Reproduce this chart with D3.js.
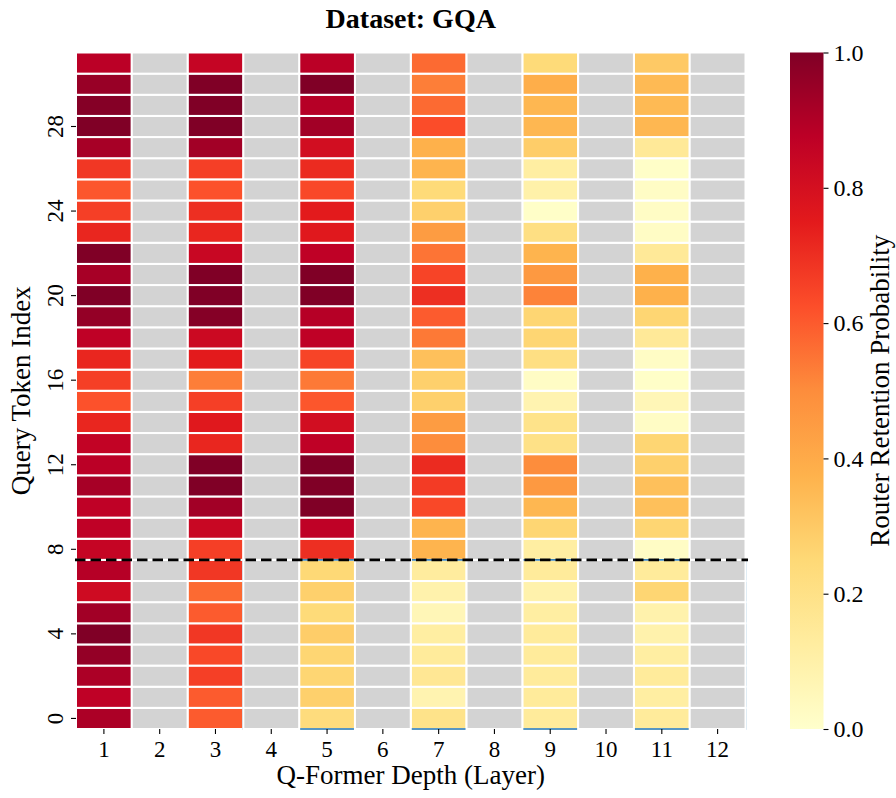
<!DOCTYPE html>
<html>
<head>
<meta charset="utf-8">
<script src="https://cdn.jsdelivr.net/npm/d3@7"></script>
<style>
  body { margin: 0; background: #fff; }
  text { font-family: "Liberation Serif", "Times New Roman", serif; fill: #000; }
</style>
</head>
<body>
<script>
'use strict';

// layers 1..12, rows 0..31 (query tokens); even layers are masked (grey)
var layers = [1, 2, 3, 4, 5, 6, 7, 8, 9, 10, 11, 12];
var tokens = d3.range(32);
var yTicks = [0, 4, 8, 12, 16, 20, 24, 28];
var cbTicks = [0, 0.2, 0.4, 0.6, 0.8, 1.0];

var layer1 = [.91, .87, .91, .96, 1.0, .93, .82, .89, .85, .87, .87, .92, .88, .86, .72, .62,
              .66, .72, .87, .96, 1.0, .92, 1.0, .72, .66, .61, .68, .92, 1.0, .99, .95, .88];
var layer3 = [.60, .60, .66, .64, .68, .60, .57, .68, .66, .84, .93, 1.0, 1.0, .72, .76, .66,
              .53, .75, .83, .99, 1.0, 1.0, .84, .72, .70, .62, .66, .93, 1.0, 1.0, 1.0, .85];
var layer5 = [.23, .28, .26, .26, .29, .24, .28, .25, .70, .87, 1.0, 1.0, 1.0, .87, .81, .61,
              .54, .65, .87, .89, 1.0, 1.0, .87, .76, .75, .64, .71, .81, .93, .89, 1.0, .88];
var layer7 = [.19, .08, .16, .14, .12, .06, .09, .13, .37, .37, .64, .67, .71, .50, .45, .28,
              .28, .33, .54, .60, .70, .65, .55, .45, .28, .24, .37, .38, .63, .57, .53, .57];
var layer9 = [.14, .14, .14, .14, .14, .12, .09, .14, .12, .26, .36, .46, .50, .20, .19, .08,
              .02, .21, .26, .26, .52, .46, .37, .21, .01, .10, .12, .29, .36, .36, .39, .24];
var layer11 = [.14, .12, .14, .12, .09, .09, .26, .14, .02, .26, .33, .33, .28, .26, .02, .06,
               .01, .02, .15, .26, .38, .38, .15, .02, .02, .02, .01, .15, .36, .35, .35, .30];

var active = {1: layer1, 3: layer3, 5: layer5, 7: layer7, 9: layer9, 11: layer11};
var splitAt = 8;   // dashed separator: tokens 0-7 below, 8-31 above

var width = 896, height = 798;
var pLeft = 76, pRight = 745.5, pTop = 52.5, pBottom = 729;
var font = '"Liberation Serif", "Times New Roman", serif';

var svg = d3.select('body').append('svg')
  .attr('width', width)
  .attr('height', height);

var x = d3.scaleBand().domain(layers).range([pLeft, pRight]).padding(0);
var y = d3.scaleBand().domain(tokens).range([pBottom, pTop]).padding(0);
var yLin = d3.scaleLinear().domain([0, 32]).range([pBottom, pTop]);

var stops = d3.schemeYlOrRd[9];
var color = d3.scaleLinear()
  .domain(d3.range(9).map(function(i){ return i / 8; }))
  .range(stops)
  .interpolate(d3.interpolateRgb)
  .clamp(true);

var cells = [];
layers.forEach(function(l){
  tokens.forEach(function(t){
    cells.push({layer: l, token: t, v: active[l] ? active[l][t] : null});
  });
});

// coloured cells
svg.append('g').selectAll('rect')
  .data(cells.filter(function(d){ return d.v !== null; }))
  .enter().append('rect')
  .attr('x', function(d){ return x(d.layer); })
  .attr('y', function(d){ return y(d.token); })
  .attr('width', x.bandwidth())
  .attr('height', y.bandwidth())
  .attr('fill', function(d){ return color(d.v); })
  .attr('stroke', '#fff')
  .attr('stroke-width', 2);

// outline of the lower block (mostly hidden under the cells)
svg.append('rect')
  .attr('x', x(3) + x.bandwidth())
  .attr('y', yLin(splitAt))
  .attr('width', pRight - x(3) - x.bandwidth())
  .attr('height', pBottom - yLin(splitAt))
  .attr('fill', 'none')
  .attr('stroke', '#2f7db5')
  .attr('stroke-width', 1.6);

// masked layers
svg.append('g').selectAll('rect')
  .data(cells.filter(function(d){ return d.v === null; }))
  .enter().append('rect')
  .attr('x', function(d){ return x(d.layer); })
  .attr('y', function(d){ return y(d.token); })
  .attr('width', x.bandwidth())
  .attr('height', y.bandwidth())
  .attr('fill', '#d3d3d3')
  .attr('stroke', '#fff')
  .attr('stroke-width', 2);

svg.append('line')
  .attr('x1', pLeft - 1)
  .attr('x2', pRight + 2.5)
  .attr('y1', yLin(splitAt))
  .attr('y2', yLin(splitAt))
  .attr('stroke', '#000')
  .attr('stroke-width', 2.8)
  .attr('stroke-dasharray', '10.5,5');

// axes
var xAxis = svg.append('g')
  .attr('transform', 'translate(0,' + pBottom + ')')
  .call(d3.axisBottom(x).tickSize(5).tickPadding(7));
xAxis.select('.domain').remove();
xAxis.selectAll('text').style('font-size', '23px').style('font-family', font);

var yAxis = svg.append('g')
  .attr('transform', 'translate(' + pLeft + ',0)')
  .call(d3.axisLeft(y).tickValues(yTicks).tickSize(5));
yAxis.select('.domain').remove();
yAxis.selectAll('text')
  .style('font-size', '23px')
  .style('font-family', font)
  .attr('text-anchor', 'middle')
  .attr('x', null)
  .attr('dy', '0')
  .attr('transform', 'translate(-13,0) rotate(-90)');

svg.selectAll('.tick line').attr('stroke', '#000').attr('stroke-width', 1.1);

// colorbar
var cbX = 790, cbW = 33.5;
var cb = d3.scaleLinear().domain([0, 1]).range([pBottom, pTop]);
var grad = svg.append('defs').append('linearGradient')
  .attr('id', 'cbgrad')
  .attr('x1', 0).attr('y1', 1).attr('x2', 0).attr('y2', 0);
grad.selectAll('stop')
  .data(stops)
  .enter().append('stop')
  .attr('offset', function(d, i){ return (i / 8 * 100) + '%'; })
  .attr('stop-color', function(d){ return d; });

svg.append('rect')
  .attr('x', cbX)
  .attr('y', pTop)
  .attr('width', cbW)
  .attr('height', pBottom - pTop)
  .attr('fill', 'url(#cbgrad)');

var cbAxis = svg.append('g')
  .attr('transform', 'translate(' + (cbX + cbW) + ',0)')
  .call(d3.axisRight(cb).tickValues(cbTicks).tickFormat(d3.format('.1f')).tickSize(5).tickPadding(5));
cbAxis.select('.domain').remove();
cbAxis.selectAll('text').style('font-size', '24px').style('font-family', font);
cbAxis.selectAll('line').attr('stroke', '#000').attr('stroke-width', 1.1);

// titles
svg.append('text')
  .attr('x', (pLeft + pRight) / 2)
  .attr('y', 28)
  .attr('text-anchor', 'middle')
  .style('font-size', '28px')
  .style('font-weight', 'bold')
  .text('Dataset: GQA');

svg.append('text')
  .attr('x', (pLeft + pRight) / 2)
  .attr('y', 784)
  .attr('text-anchor', 'middle')
  .style('font-size', '27px')
  .text('Q-Former Depth (Layer)');

svg.append('text')
  .attr('transform', 'translate(30,' + ((pTop + pBottom) / 2) + ') rotate(-90)')
  .attr('text-anchor', 'middle')
  .style('font-size', '27px')
  .text('Query Token Index');

svg.append('text')
  .attr('transform', 'translate(889,' + ((pTop + pBottom) / 2) + ') rotate(-90)')
  .attr('text-anchor', 'middle')
  .style('font-size', '27px')
  .text('Router Retention Probability');
</script>
</body>
</html>
